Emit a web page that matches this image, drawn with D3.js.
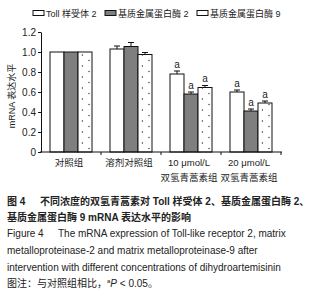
<!DOCTYPE html>
<html><head><meta charset="utf-8">
<script src="https://cdn.jsdelivr.net/npm/d3@7/dist/d3.min.js"></script>
<style>
body{margin:0;background:#fff;}
text{font-family:"Liberation Sans","Noto Sans CJK SC",sans-serif;fill:#222;}
.cjk{font-family:"Liberation Sans","Noto Sans CJK SC",sans-serif;}
</style></head>
<body><svg id="c" width="325" height="300"></svg>
<script>
// ---- data ----
const groups = ["对照组", "溶剂对照组", "10 μmol/L\n双氢青蒿素组", "20 μmol/L\n双氢青蒿素组"];
const seriesNames = ["Toll 样受体 2", "基质金属蛋白酶 2", "基质金属蛋白酶 9"];
const tlr2 = [1.00, 1.03, 0.78, 0.60];
const mmp2 = [1.00, 1.055, 0.58, 0.41];
const mmp9 = [1.00, 0.975, 0.645, 0.49];
const tlr2Err = [0, 0.03, 0.03, 0.02];
const mmp2Err = [0, 0.04, 0.02, 0.02];
const mmp9Err = [0, 0.02, 0.02, 0.02];
const sig = [[false,false,false],[false,false,false],[true,true,true],[true,true,true]];
const yTicks = [0, 0.2, 0.4, 0.6, 0.8, 1.0, 1.2];
const yTitle = "mRNA 表达水平";
const captionLines = [
  {head:"图 4", text:"不同浓度的双氢青蒿素对 Toll 样受体 2、基质金属蛋白酶 2、", bold:true},
  {head:"", text:"基质金属蛋白酶 9 mRNA 表达水平的影响", bold:true},
  {head:"Figure 4", text:"The mRNA expression of Toll-like receptor 2, matrix", bold:false},
  {head:"", text:"metalloproteinase-2 and matrix metalloproteinase-9 after", bold:false},
  {head:"", text:"intervention with different concentrations of dihydroartemisinin", bold:false}
];

const values = [tlr2, mmp2, mmp9];
const errs = [tlr2Err, mmp2Err, mmp9Err];
const fills = ["#ffffff", "#7f7f7f", "url(#dots)"];

const svg = d3.select("#c");
const x = d3.scaleBand().domain(groups).range([41, 281]).paddingInner(0).paddingOuter(0);
const xs = d3.scaleBand().domain(d3.range(3)).range([9, 51]).padding(0);
const y = d3.scaleLinear().domain([0, 1.2]).range([152, 32]);

// pattern
const defs = svg.append("defs");
const pat = defs.append("pattern").attr("id","dots").attr("patternUnits","userSpaceOnUse")
  .attr("width",15).attr("height",11).attr("x", x(groups[0]) + xs(2)).attr("y", y(1.0)+2);
pat.append("rect").attr("width",15).attr("height",11).attr("fill","#fff");
pat.append("circle").attr("cx",4.4).attr("cy",1).attr("r",0.7).attr("fill","#333");
pat.append("circle").attr("cx",11).attr("cy",6.5).attr("r",0.7).attr("fill","#333");

// bars
const barData = [];
groups.forEach((g,gi)=>values.forEach((v,si)=>barData.push({g,gi,si,v:v[gi],e:errs[si][gi],s:sig[gi][si]})));
svg.append("g").selectAll("rect").data(barData).join("rect")
  .attr("x", d=>x(d.g)+xs(d.si)).attr("width", xs.bandwidth())
  .attr("y", d=>y(d.v)).attr("height", d=>y(0)-y(d.v))
  .attr("fill", d=>fills[d.si]).attr("stroke","#111").attr("stroke-width",1);

// error bars
const eb = svg.append("g").attr("stroke","#111").attr("stroke-width",1);
barData.filter(d=>d.e>0).forEach(d=>{
  const cx = x(d.g)+xs(d.si)+xs.bandwidth()/2;
  eb.append("line").attr("x1",cx).attr("x2",cx).attr("y1",y(d.v)).attr("y2",y(d.v+d.e));
  eb.append("line").attr("x1",cx-3).attr("x2",cx+3).attr("y1",y(d.v+d.e)).attr("y2",y(d.v+d.e));
});
// significance
svg.append("g").selectAll("text").data(barData.filter(d=>d.s)).join("text")
  .attr("x", d=>x(d.g)+xs(d.si)+xs.bandwidth()/2).attr("y", d=>y(d.v+d.e)-3.5)
  .attr("text-anchor","middle").attr("font-size",10).text("a");

// y axis
const ya = svg.append("g").attr("transform","translate(41,0)")
  .call(d3.axisLeft(y).tickValues(yTicks).tickSize(3).tickSizeOuter(0).tickPadding(2)
    .tickFormat(d=>d===0?"0":d3.format(".1f")(d)));
ya.selectAll("text").attr("font-size",10).attr("fill","#222").style("font-family","Liberation Sans");
ya.selectAll("line,path").attr("stroke","#111");

// x axis
const xa = svg.append("g").attr("stroke","#111");
xa.append("line").attr("x1",40).attr("x2",x.range()[1]+1).attr("y1",y(0)).attr("y2",y(0));
groups.forEach(g=>{
  const tx = x(g)+x.bandwidth();
  xa.append("line").attr("x1",tx).attr("x2",tx).attr("y1",y(0)).attr("y2",y(0)+3);
});
const xl = svg.append("g").selectAll("text").data(groups).join("text")
  .attr("text-anchor","middle").attr("font-size",9.5)
  .attr("transform", d=>`translate(${x(d)+x.bandwidth()/2-2},166)`);
xl.each(function(d){
  d.split("\n").forEach((l,i)=>d3.select(this).append("tspan").attr("x",0).attr("y",i*14.5).text(l));
});

// y title
svg.append("text").attr("transform","translate(15,96) rotate(-90)").attr("text-anchor","middle")
  .attr("font-size",9).text(yTitle);

// legend
const legX = [33, 105, 197];
const lg = svg.append("g");
seriesNames.forEach((n,i)=>{
  lg.append("rect").attr("x",legX[i]).attr("y",10.5).attr("width",11).attr("height",5)
    .attr("fill", i===2 ? "#fff" : fills[i]).attr("stroke","#111").attr("stroke-width",1);
  lg.append("text").attr("x",legX[i]+13).attr("y",16.5).attr("font-size",9).text(n);
});

// caption
const capY = [205.3, 221, 237, 253.5, 270.5];
captionLines.forEach((c,i)=>{
  if(c.head) svg.append("text").attr("x",7).attr("y",capY[i]).attr("font-size",10)
    .attr("font-weight", c.bold?"bold":"normal").text(c.head);
  svg.append("text").attr("x", c.head ? (c.bold?40:58) : 7).attr("y",capY[i]).attr("font-size",10)
    .attr("font-weight", c.bold?"bold":"normal").text(c.text);
});
const fn = svg.append("text").attr("x",7).attr("y",287).attr("font-size",10);
fn.append("tspan").text("图注：与对照组相比，");
fn.append("tspan").attr("font-size",6).attr("dy",-4).text("a");
fn.append("tspan").attr("font-style","italic").attr("dy",4).text("P");
fn.append("tspan").text(" < 0.05。");
</script></body></html>
